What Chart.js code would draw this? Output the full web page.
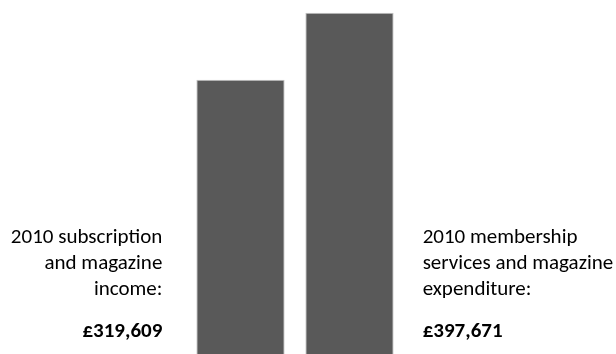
<!DOCTYPE html>
<html>
<head>
<meta charset="utf-8">
<script src="https://cdn.jsdelivr.net/npm/chart.js@4/dist/chart.umd.min.js"></script>
<style>
  html, body { margin: 0; padding: 0; background: #fff; }
  #wrap { width: 616px; height: 354px; position: relative; }
</style>
</head>
<body>
<div id="wrap"><canvas id="chart"></canvas></div>
<script>
// Data
const categories = ['2010 subscription and magazine income', '2010 membership services and magazine expenditure'];
const amounts = [319609, 397671];
const labelLines = [
    ['2010 subscription', 'and magazine', 'income:'],
    ['2010 membership', 'services and magazine', 'expenditure:']
];
const valueLabels = ['£319,609', '£397,671'];

const FONT = 'Carlito, Lato, "Liberation Sans", sans-serif';

// Texte a cote des barres
const sideLabels = {
    id: 'sideLabels',
    afterDatasetsDraw(chart) {
        const ctx = chart.ctx;
        const bars = chart.getDatasetMeta(0).data;
        ctx.save();
        ctx.fillStyle = '#000';
        ctx.textBaseline = 'alphabetic';
        bars.forEach((bar, i) => {
            const left = bar.x - bar.width / 2;
            const right = bar.x + bar.width / 2;
            let x;
            if (i === 0) {
                ctx.textAlign = 'right';
                x = left - 34;
            } else {
                ctx.textAlign = 'left';
                x = right + 29;
            }
            ctx.font = '21px ' + FONT;
            labelLines[i].forEach((line, j) => {
                ctx.fillText(line, x, 243 + j * 26);
            });
            ctx.font = 'bold 21px ' + FONT;
            ctx.fillText(valueLabels[i], x, 337);
        });
        ctx.restore();
    }
};

new Chart(document.getElementById('chart'), {
    type: 'bar',
    data: {
        labels: categories,
        datasets: [{
            data: amounts,
            backgroundColor: '#595959',
            borderColor: '#c4c4c4',
            borderWidth: 1,
            categoryPercentage: 1,
            barPercentage: 0.81
        }]
    },
    options: {
        responsive: true,
        maintainAspectRatio: false,
        animation: false,
        layout: { padding: { left: 186, right: 212, top: 0, bottom: 0 } },
        plugins: {
            legend: { display: false },
            tooltip: { enabled: false }
        },
        scales: {
            x: { display: false },
            y: { display: false, min: 0, max: 412500 }
        }
    },
    plugins: [sideLabels]
});
</script>
</body>
</html>
